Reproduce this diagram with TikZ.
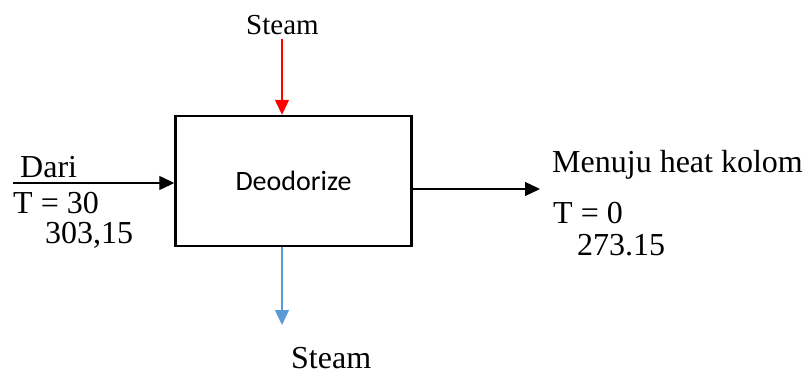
\documentclass[tikz,border=0pt]{standalone}
\usepackage{fontspec}
\setmainfont{Liberation Serif}
\newfontfamily\boxfont{Carlito}
\usetikzlibrary{arrows.meta}
\definecolor{steamblue}{RGB}{91,155,213}
\begin{document}
\begin{tikzpicture}[x=1pt,y=-1pt,
  lbl/.style={inner sep=0pt,anchor=base west,font=\fontsize{32}{36}\selectfont},
  flow/.style={line width=1.3pt,-{Triangle[length=15pt,width=14pt]}},
  unit/.style={draw,line width=2.4pt,minimum width=236pt,minimum height=130pt,inner sep=0pt,
    font=\boxfont\fontsize{28}{32}\selectfont}]
\useasboundingbox (0,0) rectangle (805,374);
% deodorizer unit
\node[unit] (deo) at (293.5,181) {Deodorize};
% feed from the left
\coordinate (feed) at (13,183);
\draw[flow] (feed) -- (feed -| deo.west);
\node[lbl] (dari) at (20,178) {Dari};
\node[lbl] (tin) at (13,213) {T = 30};
\node[lbl] (kin) at (45,243) {303,15};
% product to the right
\coordinate (prod) at (540,189);
\draw[flow] (deo.east |- prod) -- (prod);
\node[lbl] (menuju) at (552,173) {Menuju heat kolom};
\node[lbl] (tout) at (553,223) {T = 0};
\node[lbl] (kout) at (577,255) {273.15};
% steam in from the top
\node[lbl,font=\fontsize{29}{33}\selectfont] (steamin) at (246,35) {Steam};
\coordinate (sin) at (282,39);
\draw[flow,red] (sin) -- (sin |- deo.north);
% steam out at the bottom
\coordinate (sout) at (282,325);
\draw[flow,steamblue] (sout |- deo.south) -- (sout);
\node[lbl] (steamout) at (291,368) {Steam};
\end{tikzpicture}
\end{document}
